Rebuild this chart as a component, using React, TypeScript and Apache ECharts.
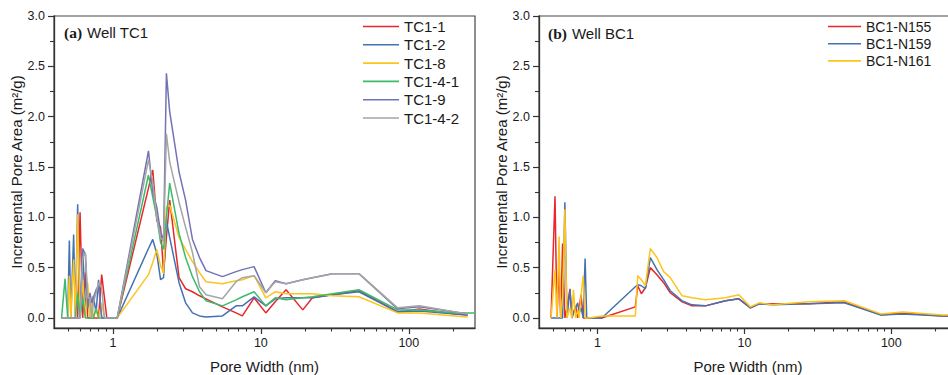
import React, { useEffect, useRef } from 'react';
import * as echarts from 'echarts';

// Pore widths (nm) for well TC1 samples
const widthsTC = [0.45, 0.475, 0.495, 0.508, 0.52, 0.543, 0.558, 0.578, 0.6, 0.625, 0.652, 0.676, 0.7, 0.72, 0.738, 0.77, 0.8, 0.84, 0.877, 0.91,
  1.07, 1.74, 1.86, 1.98, 2.1, 2.2, 2.3, 2.42, 2.8, 3.1, 3.45, 3.85, 4.26, 5.5, 6.8, 7.5, 9.0, 10.8, 12.5, 14.8, 19.2, 22.3, 30.5, 46, 84, 118, 206, 250, 280];

const tc1_1 = [0, 0, 0, 0, 0, 0, 0, 0, 1.05, 0, 0.45, 0, 0, 0, 0, 0, 0, 0.43, 0.2, 0,
  0, 1.29, 1.47, 0.97, 0.9, 0.45, 0.8, 1.17, 0.4, 0.29, 0.26, 0.22, 0.19, 0.11, 0.05, 0.02, 0.2, 0.05, 0.16, 0.28, 0.08, 0.2, 0.23, 0.27, 0.06, 0.09, 0.04, 0.03, null];
const tc1_2 = [0, 0, 0, 0.77, 0, 0.83, 0, 1.13, 0, 0.68, 0.1, 0.28, 0, 0.1, 0.22, 0.05, 0.38, 0, 0, 0,
  0, 0.69, 0.78, 0.64, 0.38, 0.4, 0.96, 0.8, 0.35, 0.15, 0.05, 0.02, 0.01, 0.02, 0.12, 0.12, 0.21, 0.12, 0.19, 0.2, 0.2, 0.2, 0.23, 0.26, 0.06, 0.07, 0.04, 0.03, null];
const tc1_8 = [0, 0, 0, 0.42, 0, 0.58, 0, 1.03, 0, 0.38, 0, 0.35, 0, 0.15, 0, 0.08, 0, 0.15, 0, 0,
  0, 0.43, 0.55, 0.68, 0.52, 0.44, 1.1, 1.12, 0.8, 0.68, 0.56, 0.45, 0.36, 0.34, 0.37, 0.38, 0.42, 0.2, 0.26, 0.24, 0.24, 0.24, 0.22, 0.21, 0.05, 0.05, 0.02, 0.01, null];
const tc1_4_1 = [0, 0.39, 0, 0, 0, 0, 0, 0.25, 0, 0.2, 0, 0, 0, 0, 0, 0.1, 0, 0, 0, 0,
  0, 1.42, 1.2, 1.0, 0.75, 0.68, 1.0, 1.34, 0.84, 0.6, 0.41, 0.26, 0.17, 0.12, 0.18, 0.21, 0.26, 0.12, 0.2, 0.18, 0.2, 0.21, 0.24, 0.28, 0.08, 0.08, 0.05, 0.05, 0.05];
const tc1_9 = [0, 0, 0, 0, 0, 0, 0, 0, 0, 0.69, 0.63, 0.1, 0.25, 0.15, 0.2, 0.28, 0.32, 0, 0, 0,
  0, 1.66, 1.25, 1.1, 0.85, 0.78, 2.43, 2.05, 1.45, 1.17, 0.78, 0.6, 0.47, 0.41, 0.46, 0.48, 0.51, 0.25, 0.37, 0.34, 0.38, 0.4, 0.44, 0.44, 0.09, 0.11, 0.06, 0.04, null];
const tc1_4_2 = [0, 0, 0, 0, 0, 0, 0, 0, 0, 0.6, 0.65, 0.2, 0.2, 0, 0.15, 0.25, 0.35, 0.3, 0, 0,
  0, 1.57, 1.35, 1.0, 0.8, 0.76, 1.83, 1.55, 1.15, 0.9, 0.65, 0.31, 0.23, 0.19, 0.36, 0.4, 0.42, 0.25, 0.36, 0.34, 0.38, 0.4, 0.44, 0.44, 0.1, 0.12, 0.06, 0.04, null];

// Pore widths (nm) for well BC1 samples
const widthsBC = [0.483, 0.514, 0.53, 0.548, 0.562, 0.579, 0.6, 0.62, 0.65, 0.67, 0.686, 0.71, 0.734, 0.75, 0.773, 0.8, 0.824, 0.845, 0.87,
  1.07, 1.81, 1.88, 1.99, 2.12, 2.29, 2.54, 2.82, 3.13, 3.77, 4.4, 5.43, 7.44, 9.17, 11.0, 12.6, 15.5, 27.6, 47.8, 85, 119, 223, 280];

const bc1_n155 = [0, 1.21, 0, 0.5, 0, 0.74, 0, 0.1, 0.29, 0, 0.05, 0.12, 0, 0.1, 0.23, 0, 0, 0, 0,
  0, 0.11, 0.32, 0.24, 0.3, 0.5, 0.43, 0.35, 0.25, 0.16, 0.12, 0.12, 0.17, 0.19, 0.1, 0.14, 0.14, 0.14, 0.16, 0.03, 0.05, 0.02, 0.02];
const bc1_n159 = [0, 0, 0, 0, 0, 0, 1.15, 0, 0.28, 0, 0.05, 0.1, 0.15, 0.05, 0.1, 0, 0.59, 0, 0,
  0, 0.31, 0.33, 0.32, 0.29, 0.6, 0.48, 0.38, 0.27, 0.17, 0.13, 0.12, 0.17, 0.19, 0.1, 0.14, 0.13, 0.14, 0.15, 0.03, 0.04, 0.02, 0.02];
const bc1_n161 = [0, 0.48, 0, 0.81, 0, 0.2, 1.08, 0, 0.1, 0, 0.28, 0, 0.08, 0, 0.22, 0.42, 0, 0, 0,
  0.02, 0.02, 0.42, 0.38, 0.32, 0.69, 0.6, 0.46, 0.4, 0.22, 0.2, 0.18, 0.2, 0.23, 0.11, 0.15, 0.13, 0.16, 0.17, 0.04, 0.06, 0.03, 0.03];

const namesTC = ['TC1-1', 'TC1-2', 'TC1-8', 'TC1-4-1', 'TC1-9', 'TC1-4-2'];
const namesBC = ['BC1-N155', 'BC1-N159', 'BC1-N161'];
const colorsTC = ['#e8262b', '#4472b0', '#fcc41e', '#3dba6a', '#7272b5', '#a5a5a5'];
const colorsBC = ['#e8262b', '#4472b0', '#fcc41e'];

const xMajorTicks = [1, 10, 100];
const xMinorTicks = [0.5, 0.6, 0.7, 0.8, 0.9, 2, 3, 4, 5, 6, 7, 8, 9, 20, 30, 40, 50, 60, 70, 80, 90, 200];
const yMajorTicks = [0, 0.5, 1.0, 1.5, 2.0, 2.5, 3.0];
const yMinorTicks = [0.25, 0.75, 1.25, 1.75, 2.25, 2.75];

const X_MIN = 0.4;
const X_MAX = 280;
const Y_MIN = -0.1;
const Y_MAX = 3.0;

const SANS = 'Liberation Sans, Arial, sans-serif';
const AXIS_COLOR = '#333';
const TEXT_COLOR = '#1a1a1a';

function toLine(ws: number[], vs: (number | null)[]) {
  return ws
    .map((w, i) => [Math.log10(w), vs[i]])
    .filter((p) => p[1] !== null && p[1] !== undefined);
}

export default function App() {
  const ref = useRef<HTMLDivElement>(null);

  useEffect(() => {
    if (!ref.current) return;
    const chart = echarts.init(ref.current, null, { renderer: 'svg' });

    const lgMin = Math.log10(X_MIN);
    const lgMax = Math.log10(X_MAX);
    const xMaj = xMajorTicks.map((v) => Math.log10(v));
    const xMin = xMinorTicks.map((v) => Math.log10(v));

    const grids = [
      { left: 54, top: 16, width: 421, height: 312 },
      { left: 539, top: 16, width: 418, height: 312 },
    ];

    const xAxes: any[] = [];
    const yAxes: any[] = [];
    grids.forEach((_, gi) => {
      xAxes.push({
        type: 'value', gridIndex: gi, min: lgMin, max: lgMax, position: 'bottom',
        axisLine: { show: true, onZero: false, lineStyle: { color: AXIS_COLOR, width: 1.3 } },
        axisTick: { show: true, customValues: xMaj, length: 6, lineStyle: { color: AXIS_COLOR, width: 1.2 } },
        axisLabel: {
          customValues: xMaj, margin: 8, fontSize: 12.5, color: TEXT_COLOR, fontFamily: SANS,
          formatter: (v: number) => String(Math.round(Math.pow(10, v))),
        },
        splitLine: { show: false },
        name: 'Pore Width (nm)', nameLocation: 'middle', nameGap: 31,
        nameTextStyle: { fontSize: 15, color: TEXT_COLOR, fontFamily: SANS },
      });
      xAxes.push({
        type: 'value', gridIndex: gi, min: lgMin, max: lgMax, position: 'bottom',
        axisLine: { show: false, onZero: false },
        axisTick: { show: true, customValues: xMin, length: 3.5, lineStyle: { color: AXIS_COLOR, width: 1.1 } },
        axisLabel: { show: false },
        splitLine: { show: false },
      });
      yAxes.push({
        type: 'value', gridIndex: gi, min: Y_MIN, max: Y_MAX, position: 'left',
        axisLine: { show: true, onZero: false, lineStyle: { color: AXIS_COLOR, width: 1.3 } },
        axisTick: { show: true, customValues: yMajorTicks, length: 6, lineStyle: { color: AXIS_COLOR, width: 1.2 } },
        axisLabel: {
          customValues: yMajorTicks, margin: 9, fontSize: 12.5, color: TEXT_COLOR, fontFamily: SANS,
          formatter: (v: number) => v.toFixed(1),
        },
        splitLine: { show: false },
        name: 'Incremental Pore Area (m²/g)', nameLocation: 'middle', nameGap: 30,
        nameTextStyle: { fontSize: 15, color: TEXT_COLOR, fontFamily: SANS },
      });
      yAxes.push({
        type: 'value', gridIndex: gi, min: Y_MIN, max: Y_MAX, position: 'left',
        axisLine: { show: false, onZero: false },
        axisTick: { show: true, customValues: yMinorTicks, length: 4, lineStyle: { color: AXIS_COLOR, width: 1.1 } },
        axisLabel: { show: false },
        splitLine: { show: false },
      });
    });

    const tcData = [tc1_1, tc1_2, tc1_8, tc1_4_1, tc1_9, tc1_4_2];
    const bcData = [bc1_n155, bc1_n159, bc1_n161];

    const series: any[] = [];
    tcData.forEach((vals, i) => {
      series.push({
        type: 'line', name: namesTC[i], xAxisIndex: 0, yAxisIndex: 0,
        data: toLine(widthsTC, vals), symbol: 'none', showSymbol: false,
        lineStyle: { color: colorsTC[i], width: 1.5 }, itemStyle: { color: colorsTC[i] },
      });
    });
    bcData.forEach((vals, i) => {
      series.push({
        type: 'line', name: namesBC[i], xAxisIndex: 2, yAxisIndex: 2,
        data: toLine(widthsBC, vals), symbol: 'none', showSymbol: false,
        lineStyle: { color: colorsBC[i], width: 1.5 }, itemStyle: { color: colorsBC[i] },
      });
    });

    const titleRich = {
      a: { fontFamily: 'Liberation Serif, Times New Roman, serif', fontWeight: 'bold', fontSize: 15.5, color: TEXT_COLOR },
      b: { fontFamily: SANS, fontWeight: 'normal', fontSize: 15, color: TEXT_COLOR },
    };

    const legendCommon = {
      orient: 'vertical', padding: 0, icon: 'rect',
    };

    chart.setOption({
      animation: false,
      backgroundColor: '#fff',
      title: [
        { text: '{a|(a)} {b|Well TC1}', left: 64, top: 23, padding: 0, textStyle: { fontWeight: 'normal', rich: titleRich } },
        { text: '{a|(b)} {b|Well BC1}', left: 548, top: 24, padding: 0, textStyle: { fontWeight: 'normal', rich: titleRich } },
      ],
      legend: [
        {
          ...legendCommon,
          data: namesTC, left: 363, top: 19,
          itemWidth: 36, itemHeight: 1.6, itemGap: 3.3,
          textStyle: { fontSize: 15, lineHeight: 15, color: TEXT_COLOR, fontFamily: SANS },
        },
        {
          ...legendCommon,
          data: namesBC, left: 828, top: 19.5,
          itemWidth: 33, itemHeight: 1.6, itemGap: 3.2,
          textStyle: { fontSize: 14, lineHeight: 14, color: TEXT_COLOR, fontFamily: SANS },
        },
      ],
      grid: grids.map((g) => ({
        ...g, show: true, borderColor: '#444', borderWidth: 1.2, backgroundColor: 'transparent',
        containLabel: false, outerBoundsMode: 'none',
      })),
      xAxis: xAxes,
      yAxis: yAxes,
      series,
    });

    return () => chart.dispose();
  }, []);

  return (
    <div
      ref={ref}
      style={{ position: 'fixed', left: 0, top: 0, width: 948, height: 375, background: '#fff' }}
    />
  );
}
